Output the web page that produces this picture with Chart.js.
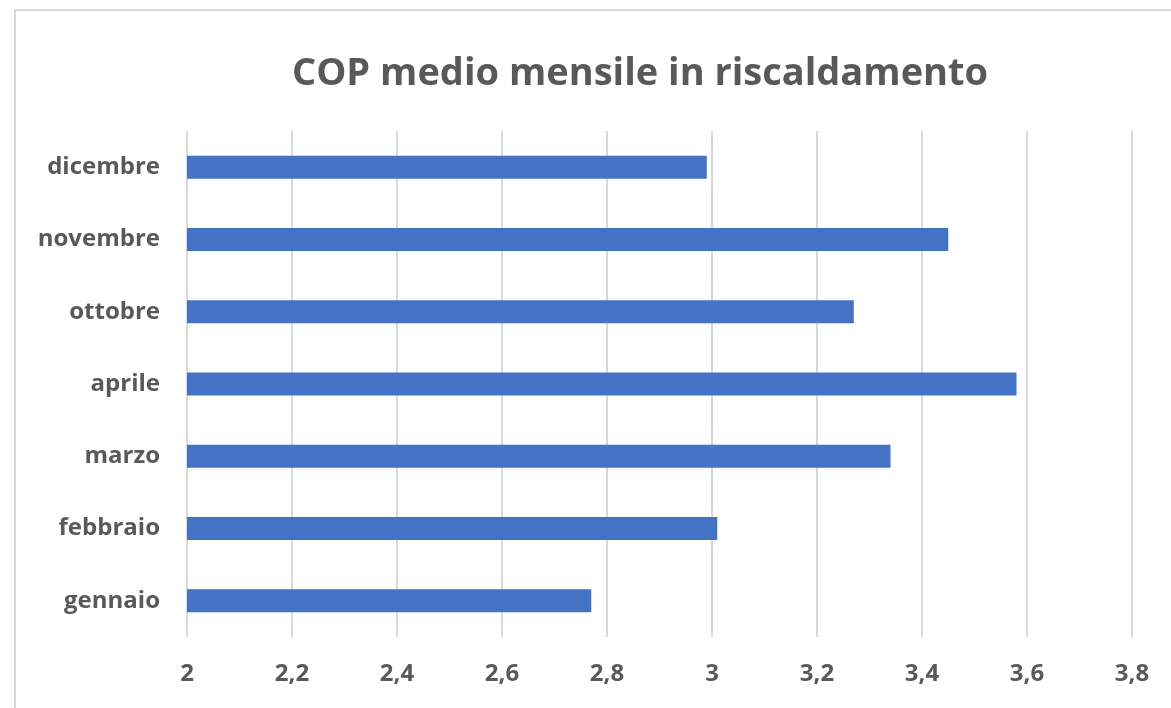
<!DOCTYPE html>
<html lang="it">
<head>
<meta charset="utf-8">
<title>COP medio mensile in riscaldamento</title>
<script src="https://cdn.jsdelivr.net/npm/chart.js@4/dist/chart.umd.min.js"></script>
<style>
  html, body { margin: 0; padding: 0; width: 1171px; height: 708px; overflow: hidden; background: #ffffff; }
  #wrap { position: relative; width: 1171px; height: 708px; overflow: hidden; }
  /* outer frame of the chart box, continuing past the right and bottom edges */
  #frame { position: absolute; left: 14px; top: 9px; width: 1300px; height: 760px;
           border-left: 2px solid #d9d9d9; border-top: 2px solid #d9d9d9; pointer-events: none; }
  canvas { position: absolute; left: 0; top: 0; }
</style>
</head>
<body>
<div id="wrap">
  <div id="frame"></div>
  <canvas id="chart" width="1280" height="708"></canvas>
</div>
<script>
// Mesi della stagione di riscaldamento
const months = ['gennaio', 'febbraio', 'marzo', 'aprile', 'ottobre', 'novembre', 'dicembre'];
// COP medio per mese
const copValues = [2.77, 3.01, 3.34, 3.58, 3.27, 3.45, 2.99];
// Etichette dell'asse orizzontale
const xTickLabels = ['2', '2,2', '2,4', '2,6', '2,8', '3', '3,2', '3,4', '3,6', '3,8'];

const textGrey = '#595959';
const gridGrey = '#d9d9d9';
const fontFamily = '"Open Sans", "Noto Sans", sans-serif';

new Chart(document.getElementById('chart'), {
  type: 'bar',
  data: {
    labels: months,
    datasets: [{
      label: 'COP',
      data: copValues,
      backgroundColor: '#4472C4',
      borderWidth: 0,
      categoryPercentage: 1,
      barPercentage: 0.318
    }]
  },
  options: {
    indexAxis: 'y',
    responsive: false,
    animation: false,
    events: [],
    layout: { padding: 0 },
    plugins: {
      legend: { display: false },
      tooltip: { enabled: false },
      title: {
        display: true,
        text: 'COP medio mensile in riscaldamento',
        color: textGrey,
        font: { family: fontFamily, size: 38, weight: 'bold', lineHeight: 1.2 },
        padding: { top: 51, bottom: 34.4 }
      }
    },
    scales: {
      x: {
        type: 'linear',
        min: 2,
        max: 3.8,
        border: { display: false },
        grid: { color: gridGrey, lineWidth: 2, drawTicks: false },
        ticks: {
          stepSize: 0.2,
          padding: 23,
          color: textGrey,
          font: { family: fontFamily, size: 24, weight: 'bold', lineHeight: 1.2 },
          callback: (v, i) => xTickLabels[i]
        },
        afterFit: (scale) => { scale.height = 71; }
      },
      y: {
        type: 'category',
        reverse: true,
        border: { display: false },
        grid: { display: false, drawTicks: false },
        ticks: {
          padding: 27,
          color: textGrey,
          font: { family: fontFamily, size: 24, weight: 'bold', lineHeight: 1.2 }
        },
        afterFit: (scale) => { scale.width = 187; }
      },
      // empty margin on the right of the plot area
      yRight: {
        type: 'category',
        position: 'right',
        border: { display: false },
        grid: { display: false, drawTicks: false },
        ticks: { display: false },
        afterFit: (scale) => { scale.width = 148; }
      }
    }
  }
});
</script>
</body>
</html>
